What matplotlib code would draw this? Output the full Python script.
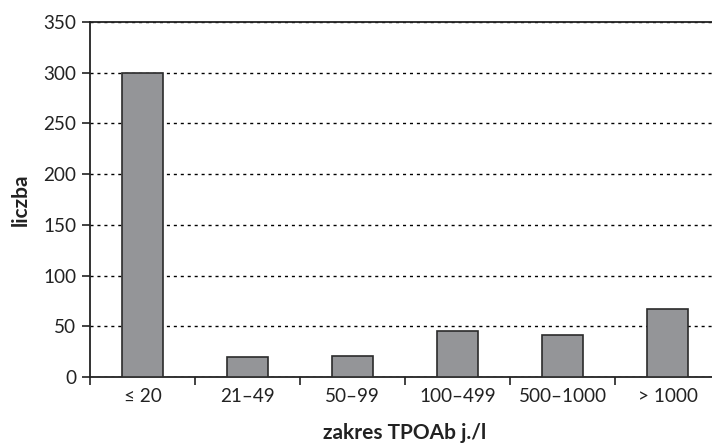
import matplotlib
matplotlib.use("Agg")
import matplotlib.pyplot as plt
import numpy as np

categories = ["≤ 20", "21–49", "50–99", "100–499", "500–1000", "> 1000"]
counts = [300, 20, 21, 45, 41, 67]
y_ticks = [0, 50, 100, 150, 200, 250, 300, 350]

plt.rcParams["font.family"] = ["Lato", "DejaVu Sans"]

W, H = 712, 443
fig = plt.figure(figsize=(W / 100, H / 100), dpi=100)
ax = fig.add_axes([90 / W, 66 / H, (720 - 90) / W, (421 - 66) / H])

x = np.arange(len(categories))
ax.set_axisbelow(True)
ax.yaxis.grid(True, linestyle=(0, (2.2, 2.8)), color="black", linewidth=1.0)
ax.bar(x, counts, width=0.39, color="#949598", edgecolor="#2b2b2b", linewidth=1.2, zorder=3)

ax.set_xlim(-0.5, len(categories) - 0.5)
ax.set_ylim(0, 350)
ax.set_yticks(y_ticks)
ax.set_xticks(x)
ax.set_xticklabels(categories)
ax.set_xticks(np.arange(len(categories) + 1) - 0.5, minor=True)

ax.tick_params(axis="x", which="major", length=0, labelsize=13.6, pad=8, colors="#222222")
ax.tick_params(axis="x", which="minor", length=6, width=1.2, direction="out", color="#222222")
ax.tick_params(axis="y", length=6, width=1.2, direction="out", labelsize=13.6, pad=4, colors="#222222")

for side in ["left", "bottom", "top"]:
    ax.spines[side].set_linewidth(1.3)
    ax.spines[side].set_color("#222222")
ax.spines["right"].set_visible(False)

ax.set_ylabel("liczba", fontsize=15, fontweight="bold", labelpad=9, color="#222222")
ax.set_xlabel("zakres TPOAb j./l", fontsize=15, fontweight="bold", labelpad=13, color="#222222")

fig.savefig("out.png", dpi=100)
